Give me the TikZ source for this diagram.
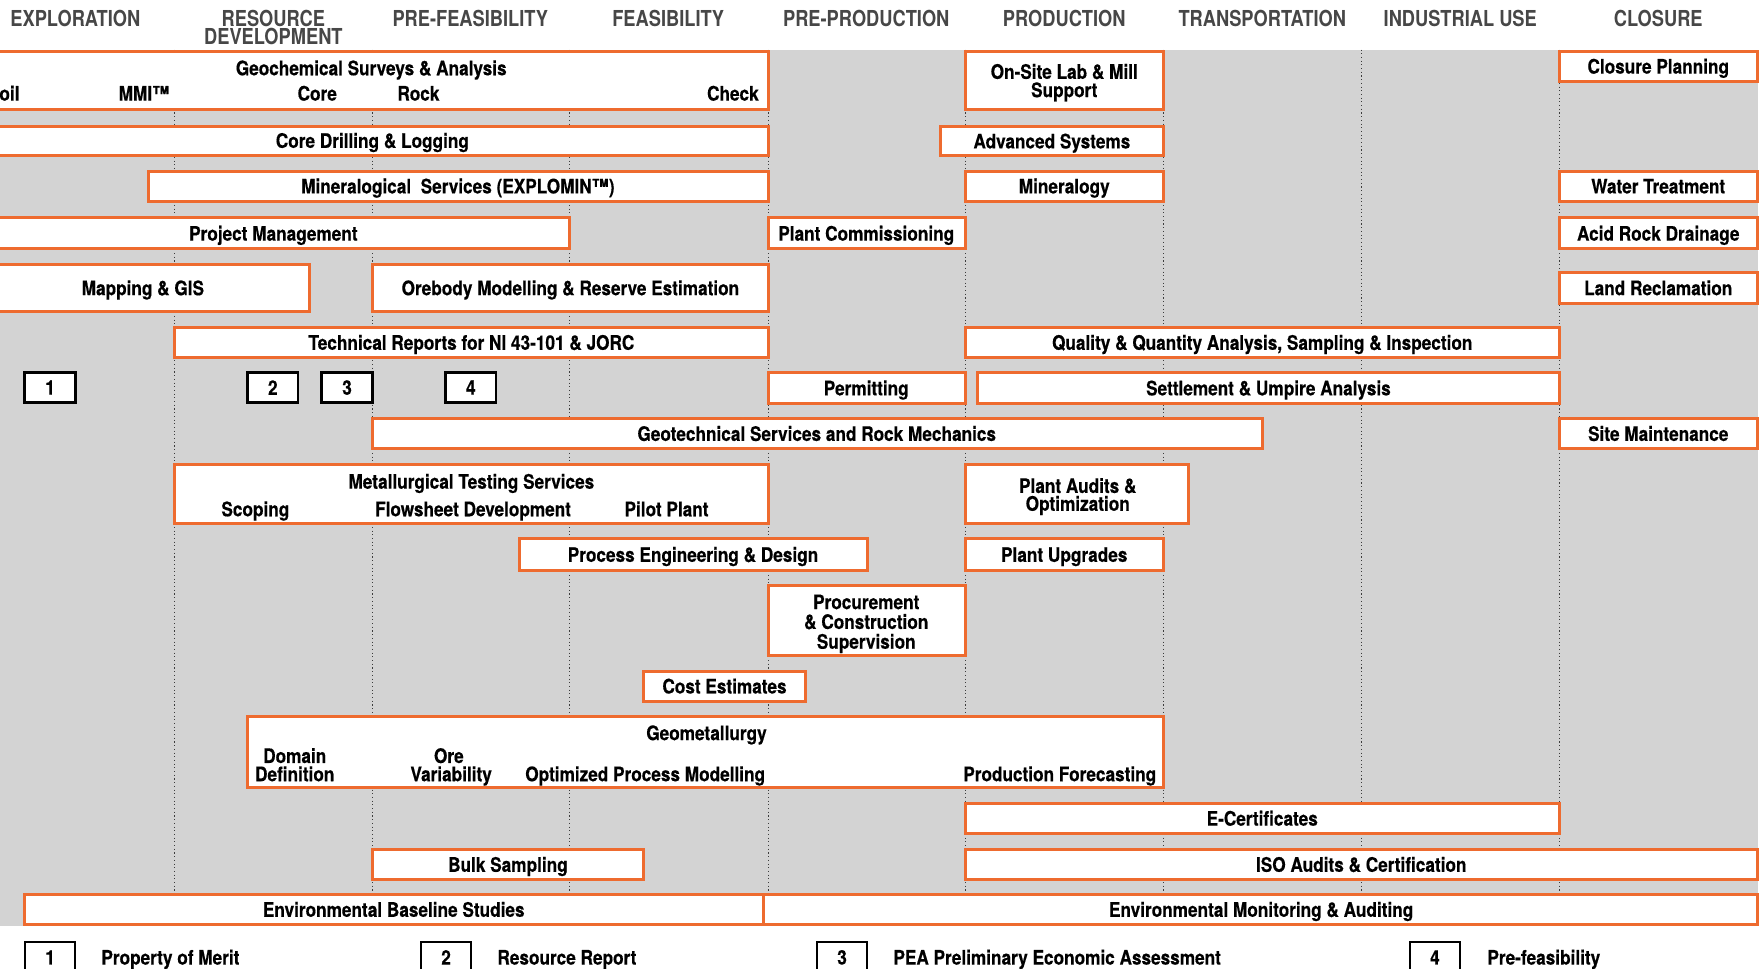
\documentclass[tikz,border=0pt]{standalone}
\usepackage{fontspec}
\newfontfamily\boxfam[FakeStretch=0.86,FakeBold=0.4]{TeX Gyre Heros}
\newfontfamily\headfam[FakeStretch=0.83]{TeX Gyre Heros}
\definecolor{borange}{HTML}{EE6B2F}
\definecolor{bggray}{HTML}{D3D3D3}
\definecolor{hdrgray}{HTML}{474747}
\definecolor{divgray}{HTML}{3C3C3C}
\tikzset{
  obox/.style={draw=borange,line width=3pt,fill=white,inner sep=0pt},
  nbox/.style={draw=black,line width=2.6pt,fill=white,inner sep=0pt},
  lgbox/.style={draw=black,line width=1.8pt,fill=white,inner sep=0pt},
  lbl/.style={font=\boxfam\bfseries\fontsize{20}{19.8}\selectfont,inner sep=0pt,align=center,text=black},
  capl/.style={lbl,anchor=base,yshift=-7.2pt},
  capwl/.style={lbl,anchor=base west,yshift=-7.2pt},
  hdr/.style={font=\headfam\bfseries\fontsize{22}{18.7}\selectfont,inner sep=0pt,align=center,text=hdrgray},
  divider/.style={draw=divgray,line width=1.1pt,dash pattern=on 1.1pt off 2.6pt},
}
\newcommand\obox[6][obox]{%
  \pgfmathsetmacro\obw{(#5-#3)*1.125}%
  \pgfmathsetmacro\obh{(#6-#4)*1.125}%
  \node[#1,minimum width=\obw pt,minimum height=\obh pt] (#2) at ({(#3+#5)/2},{(#4+#6)/2}) {};}
\begin{document}
\begin{tikzpicture}[x=1.125pt,y=-1.125pt]
\useasboundingbox (0,0) rectangle (1568,861);
\clip (0,0) rectangle (1568,861);
\fill[bggray] (0,44) rectangle (1563,823);
\foreach \x in {155,331,506,683,858,1034,1210,1386} \draw[divider] (\x,44) -- (\x,823);

% headers
\node[hdr] (h1) at (67,16) {EXPLORATION};
\node[hdr] (h2) at (243,24.3) {RESOURCE\\DEVELOPMENT};
\node[hdr] (h3) at (418,16) {PRE-FEASIBILITY};
\node[hdr] (h4) at (594,16) {FEASIBILITY};
\node[hdr] (h5) at (770,16) {PRE-PRODUCTION};
\node[hdr] (h6) at (946,16) {PRODUCTION};
\node[hdr] (h7) at (1122,16) {TRANSPORTATION};
\node[hdr] (h8) at (1298,16) {INDUSTRIAL USE};
\node[hdr] (h9) at (1474,16) {CLOSURE};

% boxes
\obox{geo}{-20}{46}{683}{97}
\obox{onsite}{858}{46}{1034}{97}
\obox{closplan}{1386}{46}{1562}{72}
\obox{core}{-20}{112}{683}{138}
\obox{adv}{836}{112}{1034}{138}
\obox{minserv}{132}{152}{683}{179}
\obox{minera}{858}{152}{1034}{179}
\obox{water}{1386}{152}{1562}{179}
\obox{pm}{-20}{193}{506}{221}
\obox{plcomm}{683}{193}{858}{221}
\obox{ard}{1386}{193}{1562}{221}
\obox{mapping}{-20}{235}{275}{277}
\obox{orebody}{331}{235}{683}{277}
\obox{landrec}{1386}{242}{1562}{270}
\obox{techrep}{155}{291}{683}{318}
\obox{qq}{858}{291}{1386}{318}
\obox[nbox]{n1}{22}{331}{67}{358}
\obox[nbox]{n2}{220}{331}{265}{358}
\obox[nbox]{n3}{286}{331}{331}{358}
\obox[nbox]{n4}{396}{331}{441}{358}
\obox{permit}{683}{331.5}{858}{358.5}
\obox{settle}{869}{331.5}{1386}{358.5}
\obox{geotech}{331}{372}{1122}{398.5}
\obox{sitem}{1386}{372}{1562}{398.5}
\obox{metall}{155}{413}{683}{465.5}
\obox{audits}{858}{413}{1056}{465.5}
\obox{proceng}{462}{479}{771}{507}
\obox{upgrades}{858}{479}{1034}{507}
\obox{procure}{683}{520}{858}{583}
\obox{cost}{572}{596.5}{716}{623.5}
\obox{geomet}{220}{637}{1034}{700}
\obox{ecert}{858}{714}{1386}{741}
\obox{bulk}{331}{755}{572}{782}
\obox{iso}{858}{755}{1562}{782}
\obox{envbase}{22}{795}{679}{822}
\obox{envmon}{679}{795}{1562}{822}
\obox[lgbox]{lg1}{22}{837}{67}{880}
\obox[lgbox]{lg2}{374}{837}{419}{880}
\obox[lgbox]{lg3}{726}{837}{771}{880}
\obox[lgbox]{lg4}{1253}{837}{1298}{880}

% labels
\node[capl] (tgeo) at (330,60.5) {Geochemical Surveys \& Analysis};
\node[capl] (tsoil) at (3.3,83) {Soil};
\node[capl] (tmmi) at (128,83) {MMI™};
\node[capl] (tcore) at (282,83) {Core};
\node[capl] (trock) at (372,83) {Rock};
\node[capl] (tcheck) at (651.5,83) {Check};
\node[lbl] (tonsite) at (946,73.5) {On-Site Lab \& Mill\\[-1.5pt]Support};
\node[capl] (tclos) at (1474,59) {Closure Planning};
\node[capl] (tcored) at (331,125) {Core Drilling \& Logging};
\node[capl] (tadv) at (935,125.5) {Advanced Systems};
\node[capl] (tmins) at (407,165.5) {Mineralogical~ Services (EXPLOMIN™)};
\node[capl] (tminer) at (946,165.5) {Mineralogy};
\node[capl] (twater) at (1474,165.5) {Water Treatment};
\node[capl] (tpm) at (243,207.5) {Project Management};
\node[capl] (tplc) at (770,207.5) {Plant Commissioning};
\node[capl] (tard) at (1474,207.5) {Acid Rock Drainage};
\node[capl] (tmap) at (127,256) {Mapping \& GIS};
\node[capl] (tore) at (507,256) {Orebody Modelling \& Reserve Estimation};
\node[capl] (tland) at (1474,256) {Land Reclamation};
\node[capl] (ttech) at (419,304.5) {Technical Reports for NI 43-101 \& JORC};
\node[capl] (tqq) at (1122,304.5) {Quality \& Quantity Analysis, Sampling \& Inspection};
\node[lbl] (num1) at (44.5,344.5) {1};
\node[lbl] (num2) at (242.5,344.5) {2};
\node[lbl] (num3) at (308.5,344.5) {3};
\node[lbl] (num4) at (418.5,344.5) {4};
\node[capl] (tperm) at (770,345) {Permitting};
\node[capl] (tsett) at (1127.5,345) {Settlement \& Umpire Analysis};
\node[capl] (tgeot) at (726,385.5) {Geotechnical Services and Rock Mechanics};
\node[capl] (tsite) at (1474,385.5) {Site Maintenance};
\node[capl] (tmet) at (419,428) {Metallurgical Testing Services};
\node[capl] (tscop) at (227,452.5) {Scoping};
\node[capl] (tflow) at (420.5,452.5) {Flowsheet Development};
\node[capl] (tpilot) at (592.5,452.5) {Pilot Plant};
\node[lbl] (taud) at (958,441.4) {Plant Audits \&\\[-2pt]Optimization};
\node[capl] (tproc) at (616,493) {Process Engineering \& Design};
\node[capl] (tupg) at (946,493) {Plant Upgrades};
\node[lbl] (tprocure) at (770,554.5) {Procurement\\\& Construction\\Supervision};
\node[capl] (tcost) at (644,610) {Cost Estimates};
\node[capl] (tgeom) at (628,651.5) {Geometallurgy};
\node[capl] (tdom) at (262,671.8) {Domain};
\node[capl] (tdef) at (262,688) {Definition};
\node[capl] (tore2) at (399,671.8) {Ore};
\node[capl] (tvar) at (401,688) {Variability};
\node[capl] (topt) at (573.5,688) {Optimized Process Modelling};
\node[capl] (tprodf) at (942,688) {Production Forecasting};
\node[capl] (tecert) at (1122,727.5) {E-Certificates};
\node[capl] (tbulk) at (451.5,768.5) {Bulk Sampling};
\node[capl] (tiso) at (1210,768.5) {ISO Audits \& Certification};
\node[capl] (tenvb) at (350,808.5) {Environmental Baseline Studies};
\node[capl] (tenvm) at (1121,808.5) {Environmental Monitoring \& Auditing};

% legend
\node[lbl] (lgn1) at (44.5,851) {1};
\node[lbl] (lgn2) at (396.5,851) {2};
\node[lbl] (lgn3) at (748.5,851) {3};
\node[lbl] (lgn4) at (1275.5,851) {4};
\node[capwl] (lgt1) at (90,851) {Property of Merit};
\node[capwl] (lgt2) at (442,851) {Resource Report};
\node[capwl] (lgt3) at (794,851) {PEA Preliminary Economic Assessment};
\node[capwl] (lgt4) at (1322,851) {Pre-feasibility};
\end{tikzpicture}
\end{document}
